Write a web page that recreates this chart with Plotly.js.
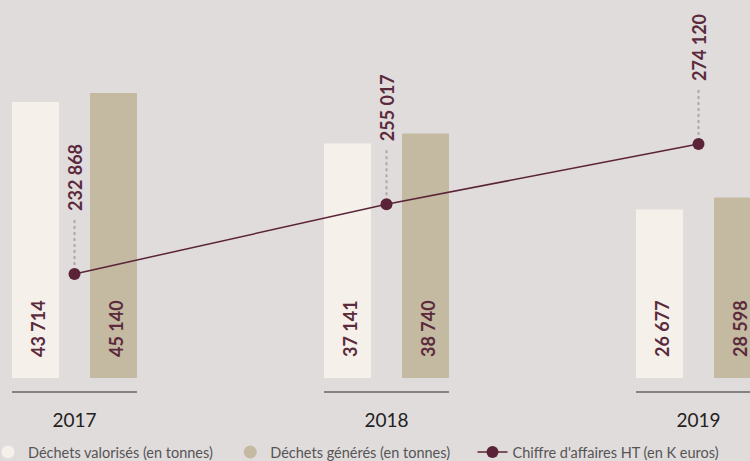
<!DOCTYPE html>
<html>
<head>
<meta charset="utf-8">
<script src="https://cdn.plot.ly/plotly-3.0.1.min.js"></script>
<style>html,body{margin:0;padding:0;background:#e0dcdc;}#chart{width:750px;height:461px;}</style>
</head>
<body>
<div id="chart"></div>
<script>
const years = ['2017', '2018', '2019'];
const valorises = [43714, 37141, 26677];
const generes = [45140, 38740, 28598];
const chiffreAffaires = [232868, 255017, 274120];
const seriesNames = ['Déchets valorisés (en tonnes)', 'Déchets générés (en tonnes)', "Chiffre d'affaires HT (en K euros)"];

const BG = '#e0dcdc';
const LIGHT = '#f5f1ea';
const TAN = '#c4b9a1';
const MAROON = '#5a2337';
const LABEL = '#5b2a3c';

const idx = years.map((_, i) => i);
const barW = 0.1506;
const offLight = -0.2003;
const offTan = 0.0497;
const fmt = n => String(n).replace(/\B(?=(\d{3})+(?!\d))/g, ' ');

const traces = [
  {type: 'bar', x: idx, y: valorises, width: barW, offset: offLight, marker: {color: LIGHT}, showlegend: false, hoverinfo: 'skip'},
  {type: 'bar', x: idx, y: generes, width: barW, offset: offTan, marker: {color: TAN}, showlegend: false, hoverinfo: 'skip'},
  {type: 'scatter', mode: 'lines+markers', x: idx, y: chiffreAffaires, yaxis: 'y2', name: seriesNames[2], legend: 'legend3',
   line: {color: MAROON, width: 1.5}, marker: {color: MAROON, size: 12}, hoverinfo: 'skip'},
  {type: 'scatter', mode: 'markers', x: [null], y: [null], name: seriesNames[0], legend: 'legend', marker: {color: LIGHT, size: 13, symbol: 'circle'}},
  {type: 'scatter', mode: 'markers', x: [null], y: [null], name: seriesNames[1], legend: 'legend2', marker: {color: TAN, size: 13, symbol: 'circle'}}
];

const numFont = {family: 'Lato, sans-serif', size: 18, color: LABEL, weight: 700};
const annotations = [];
idx.forEach(i => {
  annotations.push({x: i + offLight + barW / 2, y: 0, xref: 'x', yref: 'y', text: fmt(valorises[i]), textangle: -90,
    showarrow: false, yanchor: 'bottom', xanchor: 'center', yshift: 19, xshift: 2, font: numFont});
  annotations.push({x: i + offTan + barW / 2, y: 0, xref: 'x', yref: 'y', text: fmt(generes[i]), textangle: -90,
    showarrow: false, yanchor: 'bottom', xanchor: 'center', yshift: 19, xshift: 2, font: numFont});
  annotations.push({x: i, y: chiffreAffaires[i], xref: 'x', yref: 'y2', text: fmt(chiffreAffaires[i]), textangle: -90,
    showarrow: false, yanchor: 'bottom', xanchor: 'center', yshift: 61, xshift: 0, font: numFont});
});

const shapes = [];
idx.forEach(i => {
  shapes.push({type: 'line', xref: 'x', yref: 'y2', ysizemode: 'pixel', yanchor: chiffreAffaires[i],
    x0: i, x1: i, y0: 9, y1: 57, line: {color: '#b5a4aa', width: 2, dash: 'dot'}, layer: 'below'});
  shapes.push({type: 'line', xref: 'x', yref: 'paper', x0: i + offLight, x1: i + offTan + barW,
    y0: -0.037, y1: -0.037, line: {color: '#666666', width: 1.5}});
});

const legFont = {family: 'Lato, sans-serif', size: 14.5, color: '#555555'};
const legBase = {orientation: 'h', yanchor: 'middle', y: -0.196, xanchor: 'left', bgcolor: 'rgba(0,0,0,0)', font: legFont};

const layout = {
  width: 750, height: 461,
  margin: {l: 0, r: 0, t: 0, b: 83, autoexpand: false},
  paper_bgcolor: BG, plot_bgcolor: BG,
  barmode: 'overlay',
  showlegend: true,
  xaxis: {range: [-0.23878, 2.16506], tickvals: idx, ticktext: years, showgrid: false, zeroline: false, showline: false,
    ticks: 'outside', ticklen: 0, ticklabelstandoff: 25, automargin: false,
    tickfont: {family: 'Lato, sans-serif', size: 19, color: '#222222', weight: 400}, fixedrange: true},
  yaxis: {range: [0, 59867], visible: false, fixedrange: true},
  yaxis2: {range: [199866, 319816], overlaying: 'y', visible: false, fixedrange: true},
  legend: Object.assign({}, legBase, {x: -0.016}),
  legend2: Object.assign({}, legBase, {x: 0.307}),
  legend3: Object.assign({}, legBase, {x: 0.63}),
  annotations: annotations,
  shapes: shapes,
  hovermode: false
};

Plotly.newPlot('chart', traces, layout, {displayModeBar: false, staticPlot: true});
</script>
</body>
</html>
